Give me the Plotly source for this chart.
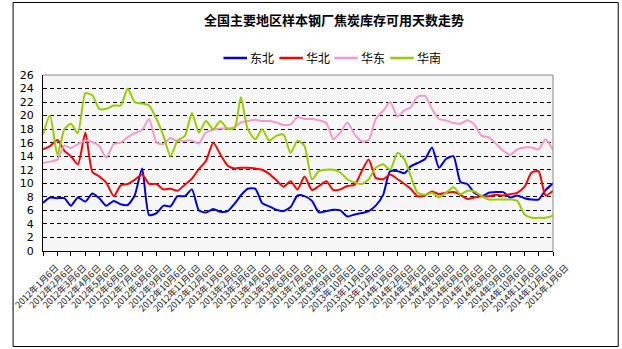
import datetime as dt
import plotly.graph_objects as go

# ---- data (semi-monthly readings, 2012-01-06 .. 2015-01-06) ----
months = [(2012 + m // 12, m % 12 + 1) for m in range(37)]
dates = []
for k, (yy, mm) in enumerate(months):
    dates.append(dt.date(yy, mm, 6))
    if k < 36:
        dates.append(dt.date(yy, mm, 21))

tick_dates = [dt.date(yy, mm, 6) for yy, mm in months]
tick_labels = [f"{yy}年{mm}月6日" for yy, mm in months]

dongbei = [7.1, 7.9, 7.8, 7.8, 6.7, 7.9, 7.3, 8.5, 7.8, 6.7, 7.4, 6.9, 6.8, 8.2, 12.2, 5.3, 5.6, 6.7, 6.6,
           8.1, 8.1, 9.1, 6.0, 5.7, 6.2, 5.8, 5.9, 7.0, 8.2, 9.2, 9.2, 7.1, 6.6, 6.1, 5.9, 6.5, 8.2,
           8.1, 7.4, 5.7, 5.9, 6.1, 6.0, 5.1, 5.4, 5.6, 5.9, 6.7, 8.3, 11.8, 11.8, 11.5, 12.5, 13.0, 13.6,
           15.3, 12.3, 13.6, 14.0, 10.2, 9.9, 8.6, 8.1, 8.6, 8.7, 8.7, 7.9, 8.2, 7.8, 7.6, 7.6, 9.0, 10.0]
huabei = [15.0, 15.5, 16.4, 14.8, 14.0, 12.8, 17.5, 11.7, 11.0, 10.1, 8.1, 9.7, 9.9, 10.5, 11.3, 9.9, 9.9, 9.1, 9.2,
          8.9, 9.8, 10.7, 12.1, 13.3, 16.0, 14.3, 12.6, 12.2, 12.3, 12.3, 12.2, 12.0, 11.4, 10.5, 9.5, 10.3, 9.1,
          11.0, 9.0, 9.6, 10.3, 9.0, 9.1, 9.6, 9.8, 11.8, 13.5, 10.8, 10.6, 11.3, 10.6, 9.9, 9.2, 8.1, 8.2,
          8.8, 8.4, 8.6, 8.7, 8.3, 7.7, 7.9, 8.1, 8.1, 8.3, 8.2, 8.4, 8.6, 9.5, 11.6, 11.8, 8.2, 8.9]
huadong = [13.0, 13.2, 13.5, 15.6, 15.2, 15.8, 16.3, 16.1, 15.5, 13.8, 15.8, 16.0, 16.8, 17.4, 17.9, 19.5, 16.0, 15.8, 16.7,
           16.2, 16.3, 16.3, 15.9, 17.5, 17.9, 18.1, 18.1, 18.3, 19.0, 19.2, 19.4, 19.2, 19.2, 19.0, 18.6, 18.7, 19.8,
           19.5, 19.5, 19.3, 18.9, 16.5, 17.5, 19.0, 17.2, 16.2, 16.4, 19.5, 20.7, 22.0, 19.9, 20.8, 21.2, 22.8, 22.9,
           21.0, 19.5, 19.3, 18.9, 18.8, 19.3, 18.7, 17.0, 16.8, 15.8, 14.8, 14.2, 15.0, 15.3, 15.3, 15.0, 16.5, 14.9]
huanan = [17.2, 20.0, 14.2, 18.0, 18.8, 17.4, 23.3, 23.0, 21.0, 21.0, 21.5, 21.5, 24.0, 22.0, 21.8, 21.5, 19.5, 17.0, 14.0,
          16.3, 17.0, 20.4, 17.5, 19.2, 18.0, 19.2, 18.0, 18.2, 22.7, 18.0, 16.5, 18.0, 16.3, 17.0, 17.2, 14.5, 16.3,
          15.5, 10.6, 11.8, 12.0, 12.0, 11.6, 10.6, 10.1, 9.9, 10.6, 12.3, 12.8, 12.0, 14.5, 13.5, 11.1, 8.6, 8.3,
          8.6, 7.9, 8.6, 9.4, 8.4, 8.9, 8.8, 8.1, 7.6, 7.6, 7.6, 7.6, 7.4, 5.4, 4.9, 4.9, 4.9, 5.2]

series_names = ["东北", "华北", "华东", "华南"]
series_values = [dongbei, huabei, huadong, huanan]
series_colors = ["#0000DD", "#FF0000", "#F59AC8", "#99CC00"]

W, H = 622, 349
L, R, T, B = 33, 69, 75, 98
PW, PH = W - L - R, H - T - B


def px(x):
    return (x - L) / PW


def py(y):
    return (H - B - y) / PH


fig = go.Figure()
for name, vals, col in zip(series_names, series_values, series_colors):
    fig.add_trace(go.Scatter(x=dates, y=vals, name=name, mode="lines", showlegend=False,
                             line=dict(color=col, width=2, shape="spline", smoothing=0.6)))

fig.update_layout(
    width=W, height=H,
    margin=dict(l=L, r=R, t=T, b=B),
    paper_bgcolor="white",
    plot_bgcolor="#f6f6f6",
    title=dict(text="全国主要地区样本钢厂焦炭库存可用天数走势",
               x=334 / W, xanchor="center", y=1 - 20 / H, yanchor="middle",
               font=dict(family="Noto Sans CJK SC", size=13, color="black", weight="bold")),
    showlegend=False,
)

# manual legend (line sample + label), positioned like the reference
legend_line_x = [217, 274, 330, 387]
for name, col, lx in zip(series_names, series_colors, legend_line_x):
    fig.add_shape(type="line", xref="paper", yref="paper",
                  x0=px(lx), x1=px(lx + 24), y0=py(58), y1=py(58),
                  line=dict(color=col, width=2.5))
    fig.add_annotation(xref="paper", yref="paper", x=px(lx + 25), y=py(58),
                       xanchor="left", yanchor="middle", showarrow=False, text=name,
                       font=dict(family="Noto Sans CJK SC", size=12, color="black"))

fig.update_xaxes(
    range=[tick_dates[0], tick_dates[-1]],
    tickmode="array", tickvals=tick_dates, ticktext=tick_labels,
    tickangle=-45, tickfont=dict(family="Noto Sans CJK SC", size=9, color="#222"),
    ticklabelshift=13, ticklabelstandoff=3,
    showgrid=False, showline=True, linecolor="black", linewidth=1,
    ticks="outside", ticklen=4, tickcolor="black", zeroline=False,
)
fig.update_yaxes(
    range=[0, 26], dtick=2, tick0=0,
    tickfont=dict(family="DejaVu Sans", size=11, color="black"),
    showgrid=True, gridcolor="black", gridwidth=1, griddash="4px,3px",
    showline=True, linecolor="black", linewidth=1, zeroline=False,
    ticks="", ticklabelstandoff=6,
)

# plot-area border (top / right) and outer frame
fig.add_shape(type="line", xref="paper", yref="paper", x0=0, x1=1, y0=1, y1=1,
              line=dict(color="#888", width=1), layer="above")
fig.add_shape(type="line", xref="paper", yref="paper", x0=1, x1=1, y0=0, y1=1,
              line=dict(color="#888", width=1), layer="above")
fig.add_shape(type="rect", xref="paper", yref="paper",
              x0=px(2.5), x1=px(619.5), y0=py(346.5), y1=py(2.5),
              line=dict(color="black", width=1), layer="above")

fig.write_html("out.html")
